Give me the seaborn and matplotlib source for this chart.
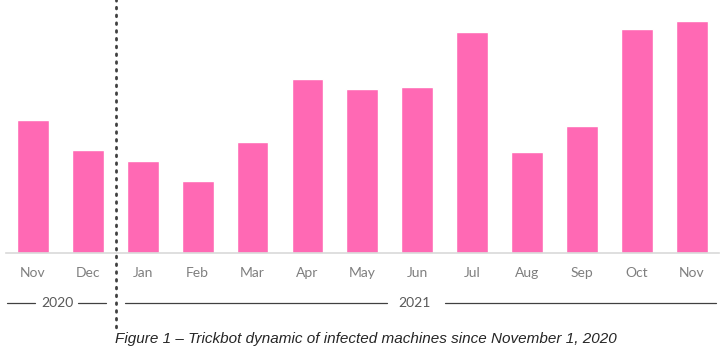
import pandas as pd
import matplotlib.pyplot as plt
import seaborn as sns
from matplotlib.lines import Line2D

# values (relative bar heights)
months = ['Nov', 'Dec', 'Jan', 'Feb', 'Mar', 'Apr', 'May', 'Jun', 'Jul', 'Aug', 'Sep', 'Oct', 'Nov']
years = ['2020', '2020', '2021', '2021', '2021', '2021', '2021', '2021', '2021', '2021', '2021', '2021', '2021']
infected = [133, 103, 92, 72, 111, 174, 164, 166, 221, 101, 127, 224, 232]

df = pd.DataFrame({'month': months, 'year': years, 'infected': infected})
df['key'] = df['month'] + ' ' + df['year']

sns.set_style('white')
plt.rcParams['font.family'] = ['Lato', 'DejaVu Sans']

fig = plt.figure(figsize=(7.28, 3.61), dpi=100)
ax = fig.add_axes([0.0077, 0.2992, 0.98, 0.6509])

sns.barplot(data=df, x='key', y='infected', order=df['key'], color='#ff69b4',
            saturation=1, width=0.58, ax=ax)

ax.set_xlim(-0.5, len(months) - 0.5)
ax.set_ylim(0, 235)
ax.set_xlabel('')
ax.set_ylabel('')
ax.set_yticks([])
ax.set_xticks(range(len(months)))
ax.set_xticklabels(months, color='#7f7f7f', fontsize=10)
ax.tick_params(axis='x', length=0, pad=10)
for side in ['top', 'left', 'right']:
    ax.spines[side].set_visible(False)
ax.spines['bottom'].set_color('#d9d9d9')
ax.spines['bottom'].set_linewidth(1.2)

# year brackets under the months
tr = ax.get_xaxis_transform()
yy = -0.213
segments = [(-0.47, 0.04), (0.82, 1.33), (1.68, 6.45), (7.5, 12.45)]
for x0, x1 in segments:
    ax.add_line(Line2D([x0, x1], [yy, yy], transform=tr, color='#404040', lw=0.9, clip_on=False))
ax.text(0.44, yy, '2020', transform=tr, ha='center', va='center', fontsize=10, color='#595959')
ax.text(6.95, yy, '2021', transform=tr, ha='center', va='center', fontsize=10, color='#595959')

# dotted divider between the two years
ax.add_line(Line2D([1.51, 1.51], [1.08, -0.33], transform=tr, color='#404040', lw=2,
                   linestyle=(0, (0.6, 2.2)), dash_capstyle='round', clip_on=False))

fig.text(0.503, 0.061, 'Figure 1 \u2013 Trickbot dynamic of infected machines since November 1, 2020',
         ha='center', va='center', fontsize=11, style='italic', family='Liberation Sans')

fig.savefig('out.png', dpi=100)
